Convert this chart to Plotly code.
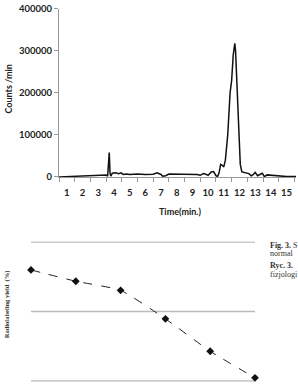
import plotly.graph_objects as go

# ---- Top chart: chromatogram ----
time_min = [0.5, 1.0, 1.5, 2.0, 2.5, 3.0, 3.3, 3.5, 3.6, 3.65, 3.7, 3.75, 3.8, 3.9,
            4.1, 4.3, 4.45, 4.6, 4.8, 5.0, 5.5, 6.0, 6.5, 6.75, 7.0, 7.1, 7.3, 7.5,
            8.0, 8.5, 9.0, 9.3, 9.5, 9.7, 9.9, 10.0, 10.2, 10.35, 10.5, 10.6, 10.7,
            10.8, 10.9, 11.0, 11.1, 11.25, 11.4, 11.5, 11.6, 11.7, 11.75, 11.8, 11.9,
            12.0, 12.05, 12.15, 12.4, 12.6, 12.75, 12.85, 13.0, 13.15, 13.3, 13.45,
            13.55, 13.6, 13.75, 14.0, 14.4, 15.0, 15.6]
counts = [0, 1000, 1500, 2000, 3500, 3500, 5000, 5000, 2000, 30000, 58000, 10000, 2000, 9000,
          10000, 8000, 10000, 6000, 7000, 6000, 7000, 6000, 6500, 10000, 6000, 2000, 3000, 7000,
          7000, 6000, 7000, 6000, 4000, 8000, 6000, 4000, 12000, 13000, 3000, 1000, 10000,
          30000, 28000, 24000, 40000, 100000, 200000, 230000, 290000, 318000, 300000, 250000, 150000,
          80000, 30000, 12000, 10000, 8000, 3000, 5000, 11000, 3000, 6000, 9000,
          3000, 1000, 5000, 4000, 2000, 1000, 1000]
x_ticks = list(range(1, 16))
y_ticks = [0, 100000, 200000, 300000, 400000]

# ---- Bottom chart: radiolabeling yield ----
cat = [1, 2, 3, 4, 5, 6]
yield_pct = [95.99, 94.36, 93.05, 88.95, 84.29, 80.46]
grid_vals = [80, 90, 100]

H = 387.0
W = 298.0

def py(p):
    return (H - p) / H

def px(p):
    return p / W

fig = go.Figure()

fig.add_trace(go.Scatter(
    x=time_min, y=counts, mode="lines",
    line=dict(color="#111111", width=1.5),
    xaxis="x", yaxis="y", showlegend=False, hoverinfo="skip"))

fig.add_trace(go.Scatter(
    x=cat, y=yield_pct, mode="lines+markers",
    line=dict(color="#222222", width=1, dash="dash", shape="spline", smoothing=0.5),
    marker=dict(symbol="diamond", size=6, color="#111111"),
    xaxis="x2", yaxis="y2", showlegend=False, cliponaxis=False, hoverinfo="skip"))

bold_sans = dict(family="Lato", size=9.5, color="#222222", weight="bold")

# bottom y-axis: 80 at px 386, 100 at px 243
ppu = (386 - 243) / 20.0
lo, hi = 79.9, 100.1
y2_bottom = 386 + (80 - lo) * ppu
y2_top = 243 - (hi - 100) * ppu

shapes = [dict(type="line", xref="x2 domain", x0=0, x1=1, yref="y2", y0=v, y1=v,
               line=dict(color="#bbbbbb", width=1.5), layer="below")
          for v in grid_vals]

fig.update_layout(
    width=298, height=387,
    margin=dict(l=0, r=0, t=0, b=0),
    paper_bgcolor="white", plot_bgcolor="white",
    xaxis=dict(
        domain=[px(59), px(296)], range=[0.5, 15.6],
        tickmode="array", tickvals=x_ticks, ticktext=[str(v) for v in x_ticks],
        ticks="", tickfont=bold_sans, ticklabelstandoff=7,
        minor=dict(ticks="outside", tick0=0.5, dtick=1, ticklen=4, tickcolor="#999999", showgrid=False),
        showline=True, linecolor="#999999", linewidth=1,
        showgrid=False, zeroline=False, anchor="y"),
    yaxis=dict(
        domain=[py(176), py(3)], range=[0, 400000],
        tickmode="array", tickvals=y_ticks, ticktext=[str(v) for v in y_ticks],
        ticks="outside", ticklen=4, tickcolor="#999999", tickfont=bold_sans,
        ticklabeloverflow="allow",
        showline=True, linecolor="#999999", linewidth=1,
        showgrid=False, zeroline=False, anchor="x"),
    xaxis2=dict(
        domain=[px(31), px(255)], range=[1, 6],
        showticklabels=False, ticks="", showline=False,
        showgrid=False, zeroline=False, anchor="y2"),
    yaxis2=dict(
        domain=[max(0.0, py(y2_bottom)), py(y2_top)], range=[lo, hi],
        showticklabels=False, ticks="", showline=False,
        showgrid=False, zeroline=False, anchor="x2"),
    shapes=shapes,
    annotations=[
        dict(text="Counts /min", xref="paper", yref="paper", x=px(9), y=py(86),
             xanchor="center", yanchor="middle",
             textangle=-90, showarrow=False, font=dict(family="Lato", size=9, color="#222222", weight="bold")),
        dict(text="Time(min.)", xref="paper", yref="paper", x=px(180), y=py(212),
             xanchor="center", yanchor="middle",
             showarrow=False, font=dict(family="Lato", size=9, color="#222222", weight="bold")),
        dict(text="Radiolabeling yield  (%)", xref="paper", yref="paper", x=px(7), y=py(307),
             xanchor="center", yanchor="middle",
             textangle=-90, showarrow=False,
             font=dict(family="Liberation Serif", size=6.5, color="#333333", weight="bold")),
        dict(text="<b>Fig. 3.</b> S", xref="paper", yref="paper", x=px(268), y=py(246),
             xanchor="left", yanchor="middle", showarrow=False,
             font=dict(family="Liberation Serif", size=8, color="#333333")),
        dict(text="normal", xref="paper", yref="paper", x=px(268), y=py(254.5),
             xanchor="left", yanchor="middle", showarrow=False,
             font=dict(family="Liberation Serif", size=8, color="#333333")),
        dict(text="<b>Ryc. 3.</b>", xref="paper", yref="paper", x=px(268), y=py(267),
             xanchor="left", yanchor="middle", showarrow=False,
             font=dict(family="Liberation Serif", size=8, color="#333333")),
        dict(text="fizjologi", xref="paper", yref="paper", x=px(268), y=py(276),
             xanchor="left", yanchor="middle", showarrow=False,
             font=dict(family="Liberation Serif", size=8, color="#333333")),
    ],
)

fig.write_html("out.html")
